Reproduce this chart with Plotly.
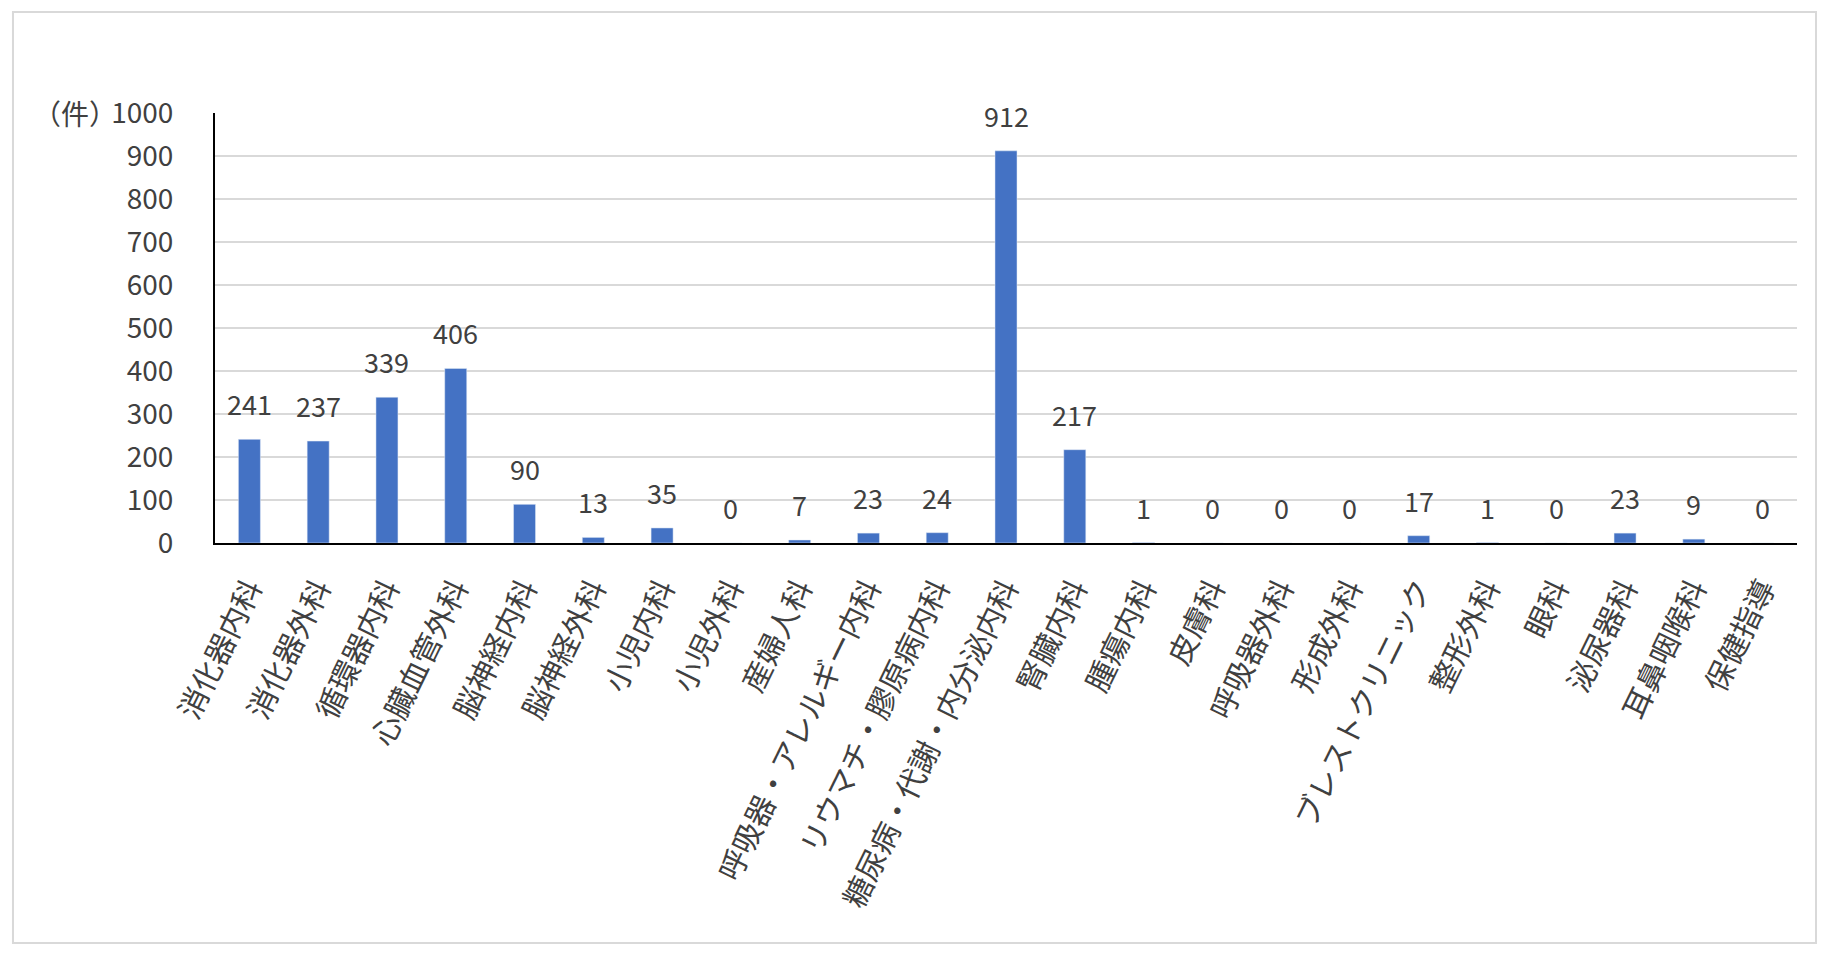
import plotly.graph_objects as go

departments = [
    "消化器内科", "消化器外科", "循環器内科", "心臓血管外科", "脳神経内科",
    "脳神経外科", "小児内科", "小児外科", "産婦人科", "呼吸器・アレルギー内科",
    "リウマチ・膠原病内科", "糖尿病・代謝・内分泌内科", "腎臓内科", "腫瘍内科",
    "皮膚科", "呼吸器外科", "形成外科", "ブレストクリニック", "整形外科",
    "眼科", "泌尿器科", "耳鼻咽喉科", "保健指導",
]
counts = [241, 237, 339, 406, 90, 13, 35, 0, 7, 23, 24, 912, 217, 1,
          0, 0, 0, 17, 1, 0, 23, 9, 0]
y_ticks = list(range(0, 1001, 100))

FONT = "Noto Sans CJK JP"
TXT = "#404040"

fig = go.Figure()
fig.add_trace(go.Bar(x=departments, y=counts, marker_color="#4472C4",
                     width=0.32, hoverinfo="x+y"))

# data labels above the bars
for d, c in zip(departments, counts):
    fig.add_annotation(x=d, y=c, text=str(c), showarrow=False,
                       yanchor="bottom", yshift=14,
                       font=dict(family=FONT, size=27, color=TXT))

# unit label left of the top tick
fig.add_annotation(xref="paper", yref="y", x=0, y=1000, text="（件）",
                   showarrow=False, xanchor="right", xshift=-96,
                   font=dict(family=FONT, size=28, color=TXT))

# chart border
fig.add_shape(type="rect", xref="paper", yref="paper",
              x0=-0.1277, x1=1.012, y0=-0.930, y1=1.235,
              line=dict(color="#d9d9d9", width=2), fillcolor="rgba(0,0,0,0)")

# page body has an 8px margin, so the figure is drawn 8px smaller
fig.update_layout(
    width=1822, height=948,
    margin=dict(l=207, r=33, t=105, b=413),
    plot_bgcolor="white", paper_bgcolor="white",
    showlegend=False,
    font=dict(family=FONT, size=28, color=TXT),
)
fig.update_xaxes(showline=True, linecolor="black", linewidth=2,
                 tickangle=-64, ticklabelstandoff=14,
                 tickfont=dict(family=FONT, size=30, color=TXT))
fig.update_yaxes(range=[0, 1000], tickvals=y_ticks, showline=True,
                 linecolor="black", linewidth=2, gridcolor="#d9d9d9",
                 gridwidth=2, zeroline=False, ticklabelstandoff=34,
                 tickfont=dict(family=FONT, size=28, color=TXT))

fig.write_html("out.html")
